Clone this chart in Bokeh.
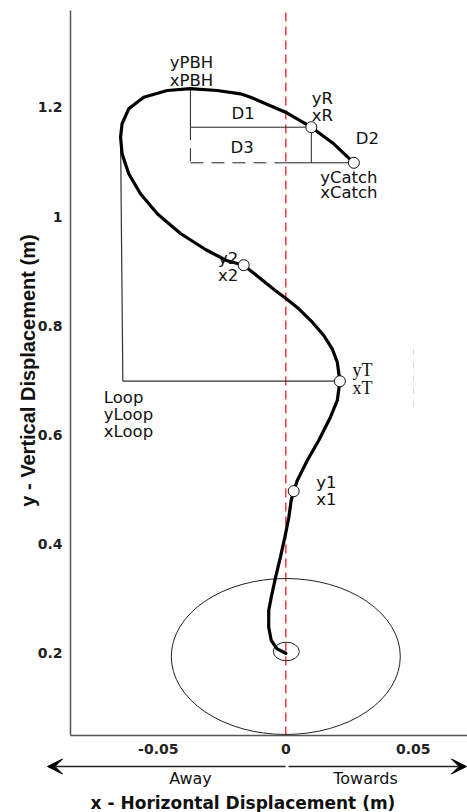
import math
from bokeh.plotting import figure
from bokeh.models import Label, Arrow, VeeHead
from bokeh.core.properties import value
from bokeh.embed import file_html
from bokeh.resources import INLINE

# ---- data ----
traj_x = [0.0000, -0.0034, -0.0057, -0.0067, -0.0067, -0.0057, -0.0040, -0.0021, -0.0001,
          0.0012, 0.0021, 0.0031, 0.0045, 0.0084, 0.0129, 0.0175, 0.0202, 0.0212,
          0.0202, 0.0182, 0.0149, 0.0104, 0.0051, 0.0002, -0.0040, -0.0106, -0.0165,
          -0.0233, -0.0315, -0.0413, -0.0504, -0.0570, -0.0616, -0.0642, -0.0648,
          -0.0642, -0.0616, -0.0557, -0.0465, -0.0374, -0.0269, -0.0178, -0.0138,
          -0.0001, 0.0100, 0.0188, 0.0267]
traj_y = [0.2005, 0.2086, 0.2238, 0.2482, 0.2788, 0.3031, 0.3398, 0.3764, 0.4192,
          0.4496, 0.4802, 0.4973, 0.5168, 0.5535, 0.5901, 0.6328, 0.6634, 0.6987,
          0.7335, 0.7581, 0.7824, 0.8068, 0.8313, 0.8496, 0.8645, 0.8892, 0.9112,
          0.9198, 0.9399, 0.9692, 1.0053, 1.0420, 1.0786, 1.1152, 1.1456,
          1.1702, 1.1976, 1.2189, 1.2311, 1.2345, 1.2311, 1.2251, 1.2189,
          1.1914, 1.1639, 1.1335, 1.0987]

# key points
pbh_x, pbh_y = -0.0374, 1.2345
r_x, r_y = 0.0100, 1.1639
catch_x, catch_y = 0.0267, 1.0987
p2_x, p2_y = -0.0165, 0.9112
t_x, t_y = 0.0212, 0.6987
p1_x, p1_y = 0.0031, 0.4973
loop_top_x, loop_top_y = -0.0648, 1.1456
loop_x = -0.0639

marker_x = [r_x, catch_x, p2_x, t_x, p1_x]
marker_y = [r_y, catch_y, p2_y, t_y, p1_y]

# ellipses: (x, y, width, height)
big_ell = (0.0, 0.1945, 0.0898, 0.2857)
small_ell = (0.0002, 0.2037, 0.0102, 0.034)

faint_x = [0.0501, 0.0501]
faint_y = [0.651, 0.764]

# axes extents (data) and ticks
x_axis_min, x_axis_max = -0.08443, 0.07125
y_axis_min, y_axis_max = 0.04982, 1.3777
x_ticks = [-0.05, 0.0, 0.05]
x_tick_labels = ["-0.05", "0", "0.05"]
y_ticks = [0.2, 0.4, 0.6, 0.8, 1.0, 1.2]
y_tick_labels = ["0.2", "0.4", "0.6", "0.8", "1", "1.2"]

W, H = 467, 812
p = figure(width=W, height=H, output_backend="svg", toolbar_location=None,
           x_range=(-0.111882, 0.071255), y_range=(-0.09121, 1.39597),
           min_border=0)
p.outline_line_color = None
p.grid.visible = False
p.background_fill_color = "white"
p.border_fill_color = "white"

for ax in (p.xaxis, p.yaxis):
    ax.axis_line_color = "#555555"
    ax.axis_line_width = 1.5
    ax.major_tick_line_color = None
    ax.minor_tick_line_color = None
    ax.major_tick_out = 0
    ax.major_tick_in = 0
    ax.minor_tick_out = 0
    ax.major_label_text_font = "DejaVu Sans"
    ax.major_label_text_font_style = "bold"
    ax.major_label_text_font_size = "14px"
    ax.major_label_text_color = "#222222"

p.xaxis.fixed_location = y_axis_min
p.xaxis.bounds = (x_axis_min, x_axis_max)
p.xaxis.ticker = x_ticks
p.xaxis.major_label_overrides = {t: l for t, l in zip(x_ticks, x_tick_labels)}
p.xaxis.major_label_standoff = 9
p.yaxis.fixed_location = x_axis_min
p.yaxis.bounds = (y_axis_min, y_axis_max)
p.yaxis.ticker = y_ticks
p.yaxis.major_label_overrides = {t: l for t, l in zip(y_ticks, y_tick_labels)}
p.yaxis.major_label_standoff = 8

# red dashed centre line
p.line([0.0, 0.0], [y_axis_min, y_axis_max], line_color="#f03030",
       line_dash="9 5", line_width=1.4)

# ellipses
p.ellipse(x=[big_ell[0]], y=[big_ell[1]], width=[big_ell[2]], height=[big_ell[3]],
          fill_color=None, line_color="#222222", line_width=1)
p.ellipse(x=[small_ell[0]], y=[small_ell[1]], width=[small_ell[2]], height=[small_ell[3]],
          fill_color=None, line_color="#222222", line_width=1)

# faint dash-dot line
p.line(faint_x, faint_y, line_color="#d9d9d9", line_dash="6 3 1 3", line_width=1)

thin = dict(line_color="#222222", line_width=1)
p.line([pbh_x, pbh_x], [pbh_y, r_y], **thin)
p.line([pbh_x, r_x], [r_y, r_y], **thin)
p.line([pbh_x, pbh_x], [r_y, catch_y], line_dash="13 8", **thin)
p.line([pbh_x, 0.0], [catch_y, catch_y], line_dash="13 8", **thin)
p.line([0.0, catch_x], [catch_y, catch_y], **thin)
p.line([r_x, r_x], [r_y, catch_y], **thin)
p.line([loop_top_x, loop_x], [loop_top_y, t_y], line_color="#333333", line_width=1.2)
p.line([loop_x, t_x], [t_y, t_y], line_color="#333333", line_width=1.2)

# trajectory
p.line(traj_x, traj_y, line_color="black", line_width=3.2, line_join="round", line_cap="round")

# markers
p.scatter(marker_x, marker_y, marker="circle", size=11, fill_color="white",
          line_color="#111111", line_width=1)

# point labels: (text, anchor x, anchor y, dx px, dy px, align, font, size)
F, FS = "DejaVu Sans", "16.5px"
lab = [
    ("yPBH", pbh_x, pbh_y, 1, -26, "center", F, FS),
    ("xPBH", pbh_x, pbh_y, 1, -8.4, "center", F, FS),
    ("yR", r_x, r_y, 11, -28.4, "center", F, FS),
    ("xR", r_x, r_y, 11, -11.7, "center", F, FS),
    ("D1", pbh_x, r_y, 52.7, -13.7, "center", F, FS),
    ("D3", pbh_x, catch_y, 51.7, -15.6, "center", F, FS),
    ("D2", catch_x, catch_y, 13.4, -24, "center", F, FS),
    ("yCatch", catch_x, catch_y, -5, 15, "center", F, FS),
    ("xCatch", catch_x, catch_y, -5, 29.4, "center", F, FS),
    ("y2", p2_x, p2_y, -15.6, -6.4, "center", F, FS),
    ("x2", p2_x, p2_y, -15.6, 10.3, "center", F, FS),
    ("yT", t_x, t_y, 22.7, -11.7, "center", "Liberation Serif", "18px"),
    ("xT", t_x, t_y, 22.7, 6.3, "center", "Liberation Serif", "18px"),
    ("Loop", loop_x, t_y, -19, 16.7, "left", F, FS),
    ("yLoop", loop_x, t_y, -19, 33.3, "left", F, FS),
    ("xLoop", loop_x, t_y, -19, 50, "left", F, FS),
    ("y1", p1_x, p1_y, 32.7, -8.7, "center", F, FS),
    ("x1", p1_x, p1_y, 32.7, 8.3, "center", F, FS),
]
for txt, ax_, ay_, dx, dy, al, fnt, fs in lab:
    p.text(x=[ax_], y=[ay_], text=[txt], x_offset=dx, y_offset=dy,
           text_align=al, text_baseline="middle", text_font=value(fnt),
           text_font_size=fs, text_color="#111111")

# annotations below the x axis (screen units, origin at the lower-left corner)
head = dict(size=15, fill_color="black", line_color="black")
p.add_layout(Arrow(x_start=285, y_start=46, x_end=47, y_end=46,
                   start_units="screen", end_units="screen", line_color="#222222",
                   line_width=1.5, end=VeeHead(**head)))
p.add_layout(Arrow(x_start=288, y_start=46, x_end=466, y_end=46,
                   start_units="screen", end_units="screen", line_color="#222222",
                   line_width=1.5, end=VeeHead(**head)))
p.add_layout(Label(x=190, y=34, x_units="screen", y_units="screen", text="Away",
                   text_align="center", text_baseline="middle", text_font="DejaVu Sans",
                   text_font_size="16px", text_color="#111111"))
p.add_layout(Label(x=365, y=34, x_units="screen", y_units="screen", text="Towards",
                   text_align="center", text_baseline="middle", text_font="DejaVu Sans",
                   text_font_size="16px", text_color="#111111"))
p.add_layout(Label(x=242.5, y=10, x_units="screen", y_units="screen",
                   text="x - Horizontal Displacement (m)", text_align="center",
                   text_baseline="middle", text_font="DejaVu Sans", text_font_style="bold",
                   text_font_size="17px", text_color="#111111"))
p.add_layout(Label(x=27, y=442, x_units="screen", y_units="screen",
                   text="y - Vertical Displacement (m)", angle=math.pi / 2,
                   text_align="center", text_baseline="middle", text_font="Liberation Sans",
                   text_font_style="bold", text_font_size="20px", text_color="#111111"))

open("out.html", "w").write(file_html(p, INLINE))
